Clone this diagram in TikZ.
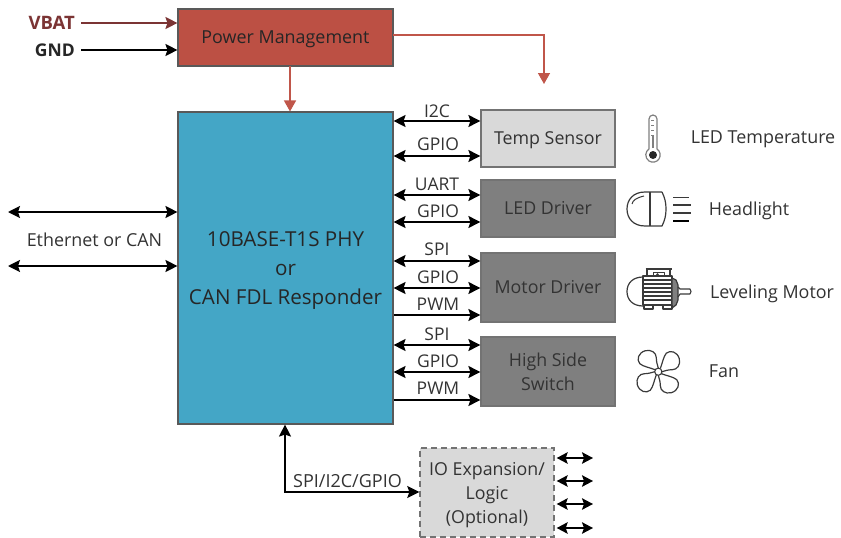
\documentclass[tikz,border=0pt]{standalone}
\usepackage{fontspec}
\setmainfont{Open Sans}
\usetikzlibrary{arrows.meta}
\definecolor{txt}{HTML}{333333}
\definecolor{redfill}{HTML}{BC5044}
\definecolor{redline}{HTML}{C0564A}
\definecolor{vbat}{HTML}{7B3434}
\definecolor{bluefill}{HTML}{44A6C6}
\definecolor{lightbox}{HTML}{D9D9D9}
\definecolor{darkbox}{HTML}{7F7F7F}
\definecolor{icon}{HTML}{3A3A3A}
\tikzset{
  x=1pt,y=-1pt,
  both/.style={{Stealth[length=12pt,width=12pt,inset=2pt]}-{Stealth[length=12pt,width=12pt,inset=2pt]},black,line width=1.6pt},
  bothsmall/.style={{Stealth[length=11pt,width=11.5pt,inset=2pt]}-{Stealth[length=11pt,width=11.5pt,inset=2pt]},black,line width=1.6pt},
  one/.style={-{Stealth[length=12pt,width=12pt,inset=2pt]},black,line width=1.6pt},
  redarrow/.style={-{Triangle[length=11pt,width=12pt]},redline,line width=1.5pt},
  boxbase/.style={draw=black!55,line width=1.2pt,minimum width=134pt,inner sep=0pt,align=center,text=txt,font=\fontsize{17.8}{24}\selectfont},
  sig/.style={font=\fontsize{17.5}{18}\selectfont,text=txt,inner sep=0pt},
  captext/.style={font=\fontsize{17.9}{18}\selectfont,text=txt,inner sep=0pt},
  ic/.style={draw=icon,line width=1.1pt,line join=round},
}
\begin{document}
\begin{tikzpicture}
\useasboundingbox (0,0) rectangle (841,538);
% boxes
\node[draw=black!65,line width=1.1pt,fill=redfill,minimum width=215pt,minimum height=57pt,inner sep=0pt,text depth=0pt,text=black!85,font=\fontsize{17.9}{18}\selectfont] (pm) at (285.5,37.5) {Power Management};
\node[draw=black!65,line width=1.1pt,fill=bluefill,minimum width=215pt,minimum height=312pt,inner sep=0pt,text depth=0pt,align=center,text=black!85,font=\fontsize{20.6}{29}\selectfont] (main) at (285.5,268) {10BASE-T1S PHY\\or\\CAN FDL Responder};
\node[boxbase,fill=lightbox,minimum height=57pt,text depth=0pt] (temp) at (548,138.5) {Temp Sensor};
\node[boxbase,fill=darkbox,minimum height=57pt] (led) at (548,208.5) {LED Driver};
\node[boxbase,fill=darkbox,minimum height=69pt] (motor) at (548,287.5) {Motor Driver};
\node[boxbase,fill=darkbox,minimum height=69pt] (hss) at (548,371.5) {High Side\\Switch};
\node[boxbase,fill=lightbox,draw=black!55,line width=1.4pt,dash pattern=on 6pt off 4pt,minimum height=89pt,text depth=0pt] (io) at (487,492.5) {IO Expansion/\\Logic\\(Optional)};
% power inputs
\node[font=\bfseries\fontsize{18.5}{18}\selectfont,text=vbat,inner sep=0pt,anchor=east] (vbatl) at (75,23) {VBAT};
\node[font=\bfseries\fontsize{17.5}{18}\selectfont,text=black!85,inner sep=0pt,anchor=east] (gndl) at (75,50) {GND};
\draw[-{Stealth[length=12pt,width=12pt,inset=2pt]},vbat,line width=1.5pt] (81,23) -- (pm.west |- vbatl);
\draw[one] (81,50) -- (pm.west |- gndl);
% power outputs
\coordinate (pmdown) at (290,66);
\coordinate (pmr) at (393,35);
\coordinate (pmend) at (544,84);
\draw[redarrow] (pmdown) -- (pmdown |- main.north);
\draw[redarrow] (pmr) -| (pmend);
% ethernet
\coordinate (e1) at (8,212);
\coordinate (e2) at (8,266);
\draw[both] (e1) -- (main.west |- e1);
\draw[both] (e2) -- (main.west |- e2);
\node[captext] (eth) at (94.5,239.5) {Ethernet or CAN};
% bus links
\foreach \y/\s in {121/both,156/both,195/both,222/both,261/both,288/both,315/one,345/both,372/both,400/one}{
  \coordinate (p) at (437.5,\y);
  \draw[\s] (main.east |- p) -- (temp.west |- p);
}
\node[sig] (l1) at (437,111) {I2C};
\node[sig] (l2) at (438,144) {GPIO};
\node[sig] (l3) at (437,184) {UART};
\node[sig] (l4) at (438,211.5) {GPIO};
\node[sig] (l5) at (437,249.5) {SPI};
\node[sig] (l6) at (438,277) {GPIO};
\node[sig] (l7) at (438,304.5) {PWM};
\node[sig] (l8) at (437,334) {SPI};
\node[sig] (l9) at (438,361) {GPIO};
\node[sig] (l10) at (438,388.5) {PWM};
% optional
\coordinate (c) at (285,492);
\draw[both] (main.south -| c) -- (c) -- (io.west |- c);
\node[sig,font=\fontsize{18}{18}\selectfont] (spi) at (347.5,481) {SPI/I2C/GPIO};
\foreach \y in {458,481,504,528}{
  \coordinate (q) at (593,\y);
  \draw[bothsmall] (io.east |- q) ++(2,0) -- (q);
}
% captions
\node[captext] (t1) at (763,139) {LED Temperature};
\node[captext] (t2) at (749,211) {Headlight};
\node[captext] (t3) at (772,293.5) {Leveling Motor};
\node[captext] (t4) at (724,371.5) {Fan};
% thermometer
\draw[gray,line width=1.2pt,line join=round] (649,149) -- (649,119) arc[start angle=180,end angle=0,radius=4pt] -- (657,149) arc[start angle=56,end angle=-236,radius=7.2pt] -- cycle;
\fill[black!85] (653,155) circle[radius=4pt];
\draw[gray,line width=1.6pt] (653,148) -- (653,135);
\foreach \y in {120,125,130,135}{\draw[gray,line width=.7pt] (651,\y) -- (654,\y);}
% headlight
\draw[ic,line width=1.2pt] (650,192) -- (650,226);
\draw[ic,line width=1.2pt] (662,192) -- (645,192) .. controls (633,192) and (627,200) .. (627,209) .. controls (627,218) and (633,226) .. (645,226) -- (662,226) .. controls (665,220) and (666,215) .. (666,209) .. controls (666,203) and (665,198) .. (662,192);
\draw[ic,line width=1pt] (632,204) .. controls (633,200) and (636,198) .. (644,196);
\draw[icon,line width=1.1pt] (673,197.5) -- (689,197.5) (673,205) -- (691,205) (673,213) -- (691,213);
\draw[black,line width=1.6pt] (673,221) -- (689,221);
% motor
\draw[ic,line width=1.2pt] (643,277) .. controls (633,277) and (627,283) .. (627,291.5) .. controls (627,300) and (633,306) .. (643,306);
\draw[ic,line width=1.2pt] (643,276) rectangle (672,305);
\foreach \y in {280,284,288,292,296,300}{\draw[icon,line width=1.5pt] (643,\y) -- (672,\y);}
\draw[ic,line width=1.2pt,fill=gray] (672,278) -- (676,280) -- (678,285) -- (678,300) -- (676,305) -- (672,308) -- cycle;
\draw[ic,line width=1.1pt] (678,287) -- (680,289) -- (690,289) -- (691,291.5) -- (690,294) -- (680,294) -- (678,297);
\draw[ic,line width=1.1pt] (647,276) -- (647,269) -- (670,269) -- (670,276);
\draw[ic,line width=1.1pt] (645.5,269) -- (671.5,269);
\draw[ic,line width=1pt] (653,276) -- (653,272) -- (664,272) -- (664,276);
\fill[icon] (657.5,274.5) circle[radius=1.3pt];
\draw[ic,line width=1.1pt] (644,305) -- (644,309) -- (653,309) -- (653,305);
\draw[ic,line width=1.1pt] (663,305) -- (663,309) -- (672,309) -- (672,305);
% fan
\draw[ic,line width=1.1pt] (658.3,371.7) circle[radius=3.6pt];
\foreach \a in {0,90,180,270}{
  \draw[ic,line width=1.2pt,shift={(658.3,371.7)},rotate=\a]
    (-3.2,-2) .. controls (-8,-4) and (-15,-5) .. (-18.5,-8)
    .. controls (-22,-12) and (-20,-19) .. (-13,-21)
    .. controls (-7,-22.5) and (-2,-19) .. (-2,-14)
    .. controls (-2,-10) and (-1,-7) .. (0,-3.6);
}
\end{tikzpicture}
\end{document}
